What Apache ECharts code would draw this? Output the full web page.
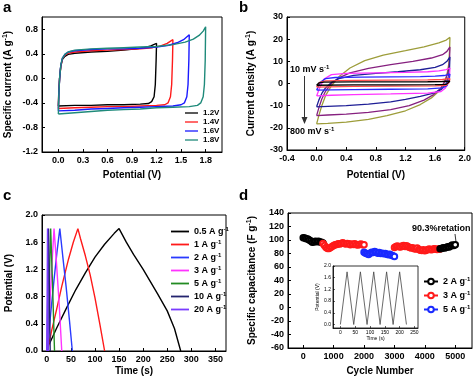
<!DOCTYPE html>
<html><head><meta charset="utf-8">
<script src="https://cdn.jsdelivr.net/npm/echarts@6/dist/echarts.min.js"></script>
<style>html,body{margin:0;padding:0;background:#fff}#c{width:474px;height:381px}</style>
</head><body><div id="c"></div>
<script>
// ---------- Panel a: CV at different voltage windows ----------
const aNames = ['1.2V','1.4V','1.6V','1.8V'];
const a12 = [[0,-0.45],[0.005,-0.22],[0.015,0.0],[0.03,0.2],[0.05,0.31],[0.08,0.36],[0.12,0.39],[0.2,0.41],[0.4,0.43],[0.6,0.44],[0.8,0.46],[0.95,0.48],[1.05,0.5],[1.13,0.53],[1.2,0.57],[1.195,0.3],[1.185,-0.1],[1.17,-0.3],[1.14,-0.38],[1.1,-0.41],[1.0,-0.42],[0.8,-0.43],[0.6,-0.43],[0.4,-0.44],[0.2,-0.44],[0,-0.45]];
const a14 = [[0,-0.49],[0.005,-0.25],[0.015,0.0],[0.03,0.2],[0.05,0.32],[0.08,0.38],[0.12,0.41],[0.2,0.43],[0.4,0.45],[0.6,0.46],[0.8,0.47],[1.0,0.48],[1.15,0.5],[1.25,0.53],[1.33,0.57],[1.4,0.63],[1.395,0.3],[1.385,-0.1],[1.37,-0.3],[1.34,-0.4],[1.3,-0.43],[1.2,-0.44],[1.0,-0.45],[0.8,-0.46],[0.6,-0.46],[0.4,-0.47],[0.2,-0.48],[0,-0.49]];
const a16 = [[0,-0.53],[0.005,-0.28],[0.015,0.0],[0.03,0.22],[0.05,0.33],[0.08,0.39],[0.12,0.43],[0.2,0.45],[0.4,0.47],[0.6,0.48],[0.8,0.48],[1.0,0.49],[1.2,0.51],[1.35,0.54],[1.45,0.58],[1.53,0.63],[1.6,0.71],[1.595,0.3],[1.585,-0.1],[1.57,-0.3],[1.54,-0.4],[1.5,-0.43],[1.4,-0.45],[1.2,-0.46],[1.0,-0.47],[0.8,-0.48],[0.6,-0.49],[0.4,-0.5],[0.2,-0.52],[0,-0.53]];
const a18 = [[0,-0.58],[0.005,-0.3],[0.015,0.0],[0.03,0.22],[0.05,0.33],[0.08,0.39],[0.12,0.43],[0.2,0.46],[0.4,0.48],[0.6,0.49],[0.8,0.5],[1.0,0.51],[1.2,0.52],[1.4,0.55],[1.55,0.59],[1.65,0.64],[1.72,0.7],[1.77,0.77],[1.8,0.84],[1.795,0.3],[1.785,-0.1],[1.77,-0.3],[1.74,-0.4],[1.7,-0.44],[1.6,-0.46],[1.4,-0.47],[1.2,-0.48],[1.0,-0.5],[0.8,-0.51],[0.6,-0.52],[0.4,-0.54],[0.2,-0.56],[0,-0.58]];
const aXTicks = [0,0.3,0.6,0.9,1.2,1.5,1.8];
const aYTicks = [-1.2,-0.8,-0.4,0,0.4,0.8];

// ---------- Panel b: CV at scan rates 10 -> 800 mV/s ----------
const b10 = [[0,-0.8],[0.03,0.3],[0.1,0.6],[0.5,0.7],[1.0,0.75],[1.5,0.8],[1.7,0.9],[1.8,1.1],[1.79,0.2],[1.75,-0.4],[1.6,-0.55],[1.0,-0.6],[0.5,-0.65],[0,-0.8]];
const b20 = [[0,-1.6],[0.04,0.5],[0.12,1.2],[0.5,1.4],[1.0,1.5],[1.5,1.6],[1.7,1.8],[1.8,2.2],[1.79,0.5],[1.75,-0.8],[1.6,-1.1],[1.0,-1.2],[0.5,-1.3],[0,-1.6]];
const b50 = [[0,-3.0],[0.05,0.5],[0.12,2.2],[0.25,2.7],[0.6,2.9],[1.0,3.0],[1.4,3.1],[1.6,3.3],[1.72,3.6],[1.8,4.2],[1.79,1.5],[1.76,-1.0],[1.7,-2.0],[1.5,-2.4],[1.0,-2.6],[0.5,-2.8],[0.2,-2.9],[0,-3.0]];
const b100 = [[0,-5.6],[0.04,-2],[0.1,2.0],[0.2,4.0],[0.4,4.6],[0.8,4.8],[1.2,5.0],[1.5,5.3],[1.65,5.7],[1.75,6.3],[1.8,7.0],[1.795,4],[1.78,1],[1.74,-2],[1.68,-3.6],[1.5,-4.3],[1.0,-4.7],[0.5,-5.0],[0.2,-5.3],[0,-5.6]];
const b200 = [[0,-10.5],[0.03,-7.5],[0.07,-4.5],[0.12,-2],[0.2,0.5],[0.3,2.2],[0.5,3.7],[0.8,4.6],[1.1,5.3],[1.4,6.2],[1.6,7.3],[1.7,8.5],[1.76,10],[1.8,12],[1.795,7],[1.78,3],[1.74,-0.5],[1.68,-2.8],[1.58,-4.3],[1.4,-5.8],[1.2,-7.2],[1.0,-8.3],[0.7,-9.3],[0.4,-10],[0.15,-10.3],[0,-10.5]];
const b500 = [[0,-14.5],[0.03,-11],[0.07,-7],[0.12,-3.5],[0.2,0],[0.3,2.5],[0.45,4.8],[0.7,6.8],[1.0,8.5],[1.3,10],[1.55,11.5],[1.7,13],[1.76,14.5],[1.8,16.5],[1.795,11],[1.78,6],[1.74,1.5],[1.68,-2],[1.58,-5],[1.45,-7.5],[1.25,-10],[1.0,-11.8],[0.7,-13],[0.4,-13.8],[0.15,-14.2],[0,-14.5]];
const b800 = [[0,-18.2],[0.03,-14.5],[0.07,-10],[0.12,-5.5],[0.2,-1],[0.3,3],[0.45,7],[0.65,10.3],[0.9,12.8],[1.2,14.8],[1.45,16.5],[1.65,18.3],[1.75,19.6],[1.8,20.8],[1.795,15],[1.785,9],[1.76,4],[1.72,0],[1.65,-3.5],[1.55,-6.5],[1.4,-9.5],[1.2,-12.3],[0.95,-14.5],[0.7,-16.2],[0.4,-17.4],[0.15,-18],[0,-18.2]];
const bXTicks = [-0.4,0,0.4,0.8,1.2,1.6,2.0];
const bYTicks = [-30,-20,-10,0,10,20,30];

// ---------- Panel c: GCD at different current densities ----------
const cLabels = ['0.5 A g','1 A g','2 A g','3 A g','5 A g','10 A g','20 A g'];
const c05 = [[5,0.1],[20,0.33],[40,0.62],[60,0.9],[80,1.15],[100,1.38],[120,1.57],[140,1.73],[150,1.8],[165,1.6],[180,1.42],[200,1.2],[215,1.02],[230,0.84],[250,0.59],[265,0.33],[278,0]];
const c1 = [[2,0.02],[10,0.3],[20,0.6],[31,0.95],[45,1.35],[55,1.6],[64.5,1.8],[70,1.65],[80,1.4],[90,1.12],[100,0.78],[110,0.4],[120,0]];
const c2 = [[1,0],[8,0.55],[15,1.05],[21,1.45],[27,1.8],[33,1.4],[40,0.95],[47,0.45],[53,0]];
const c3 = [[1,0],[5,0.5],[10,1.2],[15,1.8],[20,1.3],[26,0.65],[31,0]];
const c5 = [[1,0],[4,0.7],[8,1.8],[12,0.95],[16,0]];
const c10 = [[0.5,0],[3.5,1.8],[7,0]];
const c20 = [[0,0],[1.5,1.8],[3,0]];
const cXTicks = [0,50,100,150,200,250,300,350];
const cYTicks = [0,0.4,0.8,1.2,1.6,2.0];

// ---------- Panel d: cycling stability ----------
const d2a = [[0,103.5],[50,103],[100,102],[150,101.5],[200,100],[250,98.5],[300,96.5],[350,97],[400,98],[450,97.5],[500,98],[550,97],[600,96.5],[650,95.5]];
const d3a = [[650,95],[700,92],[750,89],[800,87.5],[850,87.5],[900,89],[950,90.5],[1000,92],[1050,93],[1100,93.5],[1150,94.5],[1200,94],[1250,95],[1300,96],[1350,95],[1400,94],[1450,95],[1500,94.5],[1550,93],[1600,94],[1650,93.5],[1700,94.5],[1750,93],[1800,92.5],[1850,93.5],[1900,94],[1950,93],[2000,93]];
const d5 = [[2000,82],[2050,80.5],[2100,79.5],[2150,78.5],[2200,80.5],[2250,82],[2300,81.5],[2350,83],[2400,82],[2450,80.5],[2500,81.5],[2550,80],[2600,80.5],[2650,79.5],[2700,80],[2750,79],[2800,78],[2850,79],[2900,77.5],[2950,76.5],[3000,75.5]];
const d3b = [[3000,89],[3050,90.5],[3100,91],[3150,90],[3200,89.5],[3250,91],[3300,92],[3350,90.5],[3400,91.5],[3450,90],[3500,89],[3550,88],[3600,88.5],[3650,87],[3700,86.5],[3750,88],[3800,86],[3850,85],[3900,84.5],[3950,85.5],[4000,84],[4050,85],[4100,86],[4150,86.5],[4200,85.5],[4250,86],[4300,87],[4350,86.5],[4400,86],[4450,86.5],[4500,86.5]];
const d2b = [[4500,87],[4550,87.5],[4600,88.5],[4650,88],[4700,89],[4750,90],[4800,89.5],[4850,91],[4900,92.5],[4950,92],[5000,93]];
const dXTicks = [0,1000,2000,3000,4000,5000];
const dYTicks = [-60,-40,-20,0,20,40,60,80,100,120,140];
// inset: charge/discharge cycles
const insetCurve = [[0,0],[22.5,1.8],[45,0],[67.5,1.8],[90,0],[112.5,1.8],[134,0],[156,1.8],[178,0],[200,1.8],[223,0]];
const insetXTicks = [0,50,100,150,200,250];
const insetYTicks = [0,0.4,0.8,1.2,1.6,2.0];

// ---------- styling helpers ----------
const F = 'Liberation Sans, Arial, sans-serif';
const richSup = (fs) => ({
  t:{fontSize:fs,fontWeight:'bold',fontFamily:F,color:'#000',lineHeight:fs+2},
  s:{fontSize:Math.round(fs*0.7),fontWeight:'bold',fontFamily:F,color:'#000',verticalAlign:'top',lineHeight:fs+2}
});
function axis(gi, min, max, ticks, fmt, name, gap, fs) {
  fs = fs || 9;
  const big = fs > 6;
  return {
    type:'value', gridIndex:gi, min:min, max:max, z:big?undefined:8,
    axisLine:{show:true,onZero:false,lineStyle:{color:'#000',width:big?1:0.8}},
    axisTick:{show:true,inside:true,length:big?3:2,customValues:ticks,lineStyle:{color:'#000',width:big?1:0.6}},
    axisLabel:{customValues:ticks,formatter:fmt,fontSize:fs,fontWeight:big?'bold':'normal',color:'#000',fontFamily:F,margin:big?4:2},
    splitLine:{show:false},
    name:name, nameLocation:'middle', nameGap:gap,
    nameTextStyle:{fontSize:big?10:5,fontWeight:big?'bold':'normal',fontFamily:F,color:'#000',rich:richSup(big?10:5)}
  };
}
const f1 = v => v.toFixed(1);
const f0 = v => String(Math.round(v));
function line(name, data, color, xi, w, z) {
  return {type:'line',name:name,data:data,xAxisIndex:xi,yAxisIndex:xi,z:z||2,
    symbol:'none',smooth:false,color:color,lineStyle:{color:color,width:w||1.3},
    animation:false,silent:true};
}
function dotLine(name, data, color) {
  return {type:'line',name:name,data:data,xAxisIndex:3,yAxisIndex:3,symbol:'emptyCircle',symbolSize:5.5,
    showAllSymbol:true,color:color,lineStyle:{color:color,width:1},itemStyle:{color:color,borderColor:color,borderWidth:1.2},animation:false,silent:true};
}
const gridBox = {show:true,borderColor:'#000',borderWidth:1,backgroundColor:'transparent'};
const lineIcon = 'path://M0,0H20V2H0Z';

const aColors = ['#000000','#ff1a1a','#1a1aff','#1f8a7a'];
const cColors = ['#000000','#ff1a1a','#2a3aff','#ff33ff','#228b22','#23236e','#7a3cff'];
const cNames = ['c05','c1','c2','c3','c5','c10','c20'];
const cData = [c05,c1,c2,c3,c5,c10,c20];

const series = [];
[a12,a14,a16,a18].forEach((d,i)=>series.push(line(aNames[i],d,aColors[i],0,1.4)));
[[b800,'#9d9d3a'],[b500,'#86207f'],[b200,'#1e1e96'],[b100,'#ff33ff'],[b50,'#2a2aff'],[b20,'#ff4a4a'],[b10,'#000000']]
  .forEach((p,i)=>series.push(line('b'+i,p[0],p[1],1,1.3)));
cData.forEach((d,i)=>series.push(line(cNames[i],d,cColors[i],2,1.4)));
series.push(dotLine('d2',d2a,'#000000'));
series.push(dotLine('d3',d3a,'#ff1a1a'));
series.push(dotLine('d5',d5,'#1a2aff'));
series.push(dotLine('d3',d3b,'#ff1a1a'));
series.push(dotLine('d2',d2b,'#000000'));
series.push(line('inset',insetCurve,'#444444',4,0.8,9));

const dLabel = {d2:'2 A g',d3:'3 A g',d5:'5 A g'};
const cLabelMap = {}; cNames.forEach((n,i)=>cLabelMap[n]=cLabels[i]);

const option = {
  animation:false,
  backgroundColor:'#fff',
  grid:[
    Object.assign({left:42,top:17,width:180,height:135},gridBox),
    Object.assign({left:287,top:17,width:179,height:133},gridBox),
    Object.assign({left:42,top:215,width:184,height:136},gridBox),
    Object.assign({left:288,top:213,width:184,height:135},gridBox),
    {show:true,left:333,top:266,width:85,height:62,borderColor:'#000',borderWidth:0.8,backgroundColor:'#fff',z:5}
  ],
  xAxis:[
    axis(0,-0.2,2.0,aXTicks,f1,'Potential (V)',18),
    axis(1,-0.4,2.0,bXTicks,f1,'Potential (V)',20),
    axis(2,-10,372,cXTicks,f0,'Time (s)',15),
    axis(3,-500,5550,dXTicks,f0,'Cycle Number',18),
    axis(4,-25,262,insetXTicks,f0,'Time (s)',6,5)
  ],
  yAxis:[
    axis(0,-1.2,1.0,aYTicks,f1,'{t|Specific current (A g}{s|-1}{t|)}',28),
    axis(1,-30,30,bYTicks,f0,'{t|Current density (A g}{s|-1}{t|)}',30),
    axis(2,0,2.0,cYTicks,f1,'Potential (V)',28),
    axis(3,-60,140,dYTicks,f0,'{t|Specific capacitance (F g}{s|-1}{t|)}',30),
    axis(4,-0.12,2.0,insetYTicks,f1,'Potential (V)',11,5)
  ],
  legend:[
    {data:aNames,orient:'vertical',left:180,top:104,itemWidth:13,itemHeight:2,itemGap:1,icon:lineIcon,
      textStyle:{fontSize:8,fontWeight:'bold',fontFamily:F,color:'#000',lineHeight:8},selectedMode:false},
    {data:cNames,orient:'vertical',left:166,top:221,itemWidth:18,itemHeight:2,itemGap:2,icon:lineIcon,
      formatter:n=>'{t|'+cLabelMap[n]+'}{s|-1}',
      textStyle:{fontSize:9,fontWeight:'bold',fontFamily:F,color:'#000',lineHeight:11,rich:richSup(9)},selectedMode:false},
    {data:['d2','d3','d5'],orient:'vertical',left:418,top:271,itemWidth:14,itemHeight:7,itemGap:3,
      formatter:n=>'{t|'+dLabel[n]+'}{s|-1}',
      textStyle:{fontSize:9,fontWeight:'bold',fontFamily:F,color:'#000',lineHeight:11,rich:richSup(9)},selectedMode:false}
  ],
  graphic:[
    {type:'text',left:3,top:0,style:{text:'a',font:'bold 15px '+F,fill:'#000'}},
    {type:'text',left:239,top:0,style:{text:'b',font:'bold 15px '+F,fill:'#000'}},
    {type:'text',left:3,top:188,style:{text:'c',font:'bold 15px '+F,fill:'#000'}},
    {type:'text',left:239,top:188,style:{text:'d',font:'bold 15px '+F,fill:'#000'}},
    {type:'text',left:290,top:64,style:{text:'{t|10 mV s}{s|-1}',rich:richSup(9)}},
    {type:'text',left:290,top:126,style:{text:'{t|800 mV s}{s|-1}',rich:richSup(9)}},
    {type:'line',shape:{x1:304.5,y1:76,x2:304.5,y2:118},style:{stroke:'#333',lineWidth:1}},
    {type:'polygon',shape:{points:[[301.5,117],[307.5,117],[304.5,124]]},style:{fill:'#333'}},
    {type:'text',left:412,top:224,style:{text:'90.3%retation',font:'bold 9px '+F,fill:'#000'}},
    {type:'line',shape:{x1:455,y1:234,x2:456,y2:242},style:{stroke:'#000',lineWidth:0.8}}
  ],
  series:series
};
const chart = echarts.init(document.getElementById('c'),null,{renderer:'canvas'});
chart.setOption(option);
</script></body></html>
